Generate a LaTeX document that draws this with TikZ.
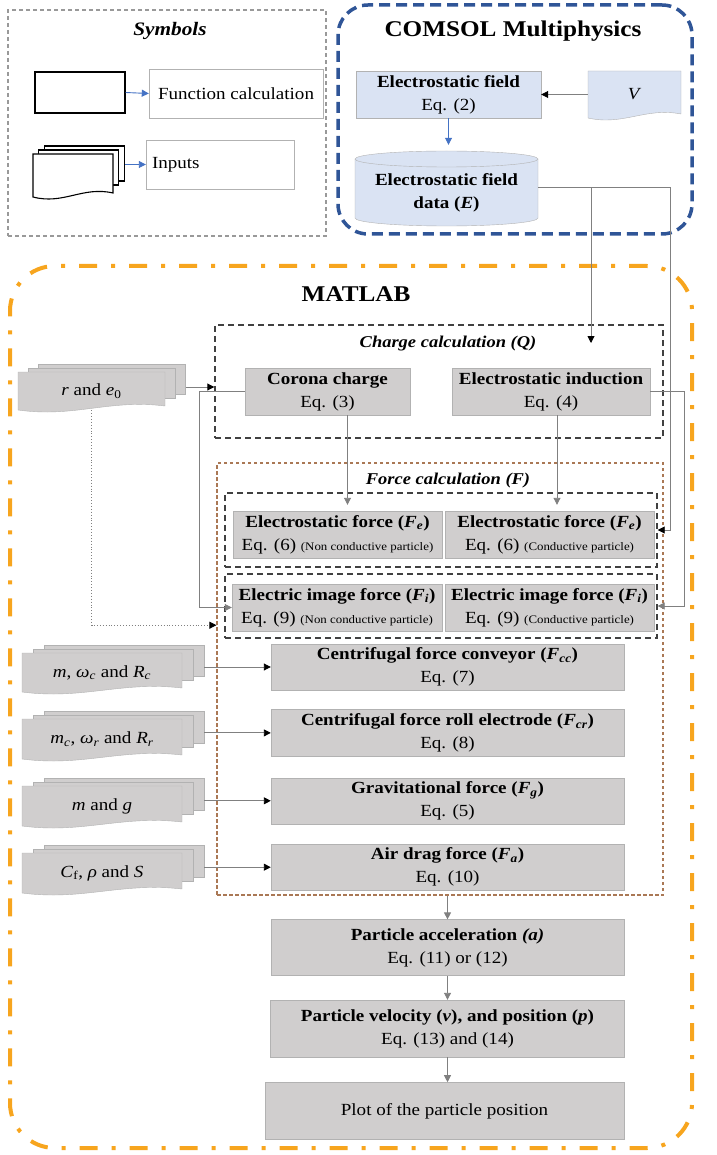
\documentclass[tikz,border=0pt]{standalone}
\usepackage{fontspec}
\setmainfont{Liberation Serif}[FakeStretch=1.12]
\usetikzlibrary{arrows.meta, positioning, calc}

\definecolor{boxgray}{RGB}{208,206,206}
\definecolor{boxline}{RGB}{178,178,178}
\definecolor{lblue}{RGB}{218,227,243}
\definecolor{comsolblue}{RGB}{47,85,151}
\definecolor{matorange}{RGB}{247,165,30}
\definecolor{brownline}{RGB}{170,120,85}
\definecolor{linegray}{RGB}{128,128,128}
\definecolor{arrowblue}{RGB}{68,114,196}

\newcommand{\boxfont}{\fontsize{17pt}{23pt}\selectfont}
\newcommand{\tinyfont}{\fontsize{11.5pt}{13pt}\selectfont}

% document sheet with a wavy lower edge
\newcommand{\docpath}[5]{%
  \draw[#1] (#2,#3) -- ({#2+#4},#3) -- ({#2+#4},{#3+#5-4})
    .. controls ({#2+0.62*#4},{#3+#5-11}) and ({#2+0.38*#4},{#3+#5+8}) .. (#2,{#3+#5}) -- cycle;}
% stack of three sheets, front one named
\newcommand{\inpstack}[7]{%
  \foreach \k in {2,1}
    \draw[#1] ({#3+0.07*#5*\k},{#4-4*\k}) rectangle ++(#5,{#6-8});
  \docpath{#1}{#3}{#4}{#5}{#6}
  \node[stacktxt, minimum width=#5pt, minimum height=#6pt] (#2) at ({#3+#5/2},{#4+#6/2}) {#7};}

\begin{document}
\begin{tikzpicture}[x=1pt, y=-1pt,
        gbox/.style={draw=boxline, fill=boxgray, align=center, inner sep=1pt, font=\boxfont},
        bbox/.style={gbox, fill=lblue},
        wbox/.style={draw=boxline, fill=white, font=\fontsize{17pt}{20pt}\selectfont},
        sheet/.style={draw=boxline, fill=boxgray},
        bsheet/.style={draw=boxline, fill=lblue},
        symsheet/.style={draw=black, fill=white, line width=1.1pt},
        stacktxt/.style={font=\fontsize{17pt}{20pt}\selectfont, inner sep=0pt},
        grp/.style={draw=black!75, dash pattern=on 6pt off 4pt, line width=1.4pt, inner sep=0pt},
        ttl/.style={font=\fontsize{16.5pt}{20pt}\selectfont\bfseries\itshape},
        conn/.style={draw=linegray, line width=0.9pt},
        tipk/.style={-{Triangle[length=7pt, width=7pt, color=black]}},
        tipg/.style={-{Triangle[length=7pt, width=7pt, color=linegray]}},
        tipb/.style={draw=arrowblue, line width=0.9pt, -{Triangle[length=7pt, width=7pt, color=arrowblue]}}
    ]
    \useasboundingbox (0,0) rectangle (716,1155);

    % frames
    \node[draw=gray!80, dash pattern=on 4pt off 3pt, line width=1.1pt, minimum width=318pt, minimum height=226pt] (symbols) at (167,123) {};
    \node[font=\fontsize{19pt}{22pt}\selectfont\bfseries\itshape] (symttl) at (170,31) {Symbols};
    \node[draw=comsolblue, line width=3.5pt, dash pattern=on 11pt off 6pt, rounded corners=30pt, minimum width=354pt, minimum height=229pt] (comsol) at (515,119.5) {};
    \node[font=\fontsize{22.5pt}{26pt}\selectfont\bfseries] (comttl) at (513,31) {COMSOL Multiphysics};
    \node[draw=matorange, line width=4pt, dash pattern=on 18pt off 14pt on 4pt off 14pt, rounded corners=45pt, minimum width=682pt, minimum height=882pt] (matlab) at (351,707) {};
    \node[font=\fontsize{22.5pt}{26pt}\selectfont\bfseries] (matttl) at (356,294) {MATLAB};

    % symbols
    \node[symsheet, minimum width=90pt, minimum height=41pt] (symfun) at (80,92.5) {};
    \node[wbox, minimum width=174pt, minimum height=49pt] (symfunc) at (236,93.5) {Function calculation};
    \inpstack{symsheet}{syminp}{33}{154}{80}{43}{}
    \node[wbox, minimum width=148pt, minimum height=49pt, text width=136pt, align=left] (syminput) at (220,164.5) {Inputs};
    \draw[tipb] (symfun.east) -- (symfunc.west);
    \draw[tipb] ($(syminput.west -| syminp.east)+(12,0)$) -- (syminput.west);

    % COMSOL
    \node[bbox, minimum width=185pt, minimum height=47pt] (field) at (448.5,94.5) {\textbf{Electrostatic field}\\Eq. (2)};
    \docpath{bsheet}{588}{71}{93}{47}
    \node[stacktxt, minimum width=93pt, minimum height=47pt] (volt) at (634.5,94.5) {\textit{V}};
    \draw[draw=boxline, fill=lblue] (355,159) -- (355,218) arc[start angle=180, end angle=0, x radius=91.5, y radius=8]
        -- (538,159) arc[start angle=0, end angle=-180, x radius=91.5, y radius=8] -- cycle;
    \draw[draw=boxline] (355,159) arc[start angle=180, end angle=0, x radius=91.5, y radius=8];
    \node[font=\boxfont, align=center, minimum width=183pt, minimum height=84pt, inner sep=0pt] (data) at (446.5,193) {\textbf{Electrostatic field}\\\textbf{data (\textit{E})}};
    \draw[conn, tipk] (volt.west) -- (field.east);
    \draw[tipb, shorten >=6pt] (field.south) -- (field.south |- data.north);

    % charge calculation
    \node[grp, minimum width=448pt, minimum height=113pt] (qbox) at (439,381.5) {};
    \node[ttl] (qttl) at (448,344) {Charge calculation (Q)};
    \coordinate (qin) at (591,343);
    \node[gbox, minimum width=165pt, minimum height=47pt] (corona) at (327.5,391.5) {\textbf{Corona charge}\\Eq. (3)};
    \node[gbox, minimum width=198pt, minimum height=47pt] (induct) at (551,391.5) {\textbf{Electrostatic induction}\\Eq. (4)};

    % force calculation
    \node[draw=brownline, dash pattern=on 3.5pt off 2.5pt, line width=1.2pt, minimum width=446pt, minimum height=432pt] (fbox) at (440,679) {};
    \node[ttl] (fttl) at (448,481) {Force calculation (F)};
    \node[grp, minimum width=432pt, minimum height=74pt] (egrp) at (441,530) {};
    \node[gbox, minimum width=209pt, minimum height=47pt] (elecN) at (337.5,534.5) {\textbf{Electrostatic force (\textit{F}\textsubscript{\textit{e}})}\\Eq. (6) {\tinyfont(Non conductive particle)}};
    \node[gbox, minimum width=209pt, minimum height=47pt] (elecC) at (549.5,534.5) {\textbf{Electrostatic force (\textit{F}\textsubscript{\textit{e}})}\\Eq. (6) {\tinyfont(Conductive particle)}};
    \node[grp, minimum width=432pt, minimum height=64pt] (igrp) at (441,606) {};
    \node[gbox, minimum width=210pt, minimum height=47pt] (imgN) at (337,607.5) {\textbf{Electric image force (\textit{F}\textsubscript{\textit{i}})}\\Eq. (9) {\tinyfont(Non conductive particle)}};
    \node[gbox, minimum width=209pt, minimum height=47pt] (imgC) at (549.5,607.5) {\textbf{Electric image force (\textit{F}\textsubscript{\textit{i}})}\\Eq. (9) {\tinyfont(Conductive particle)}};

    \node[gbox, minimum width=353pt, minimum height=46pt] (conv) at (447.5,667) {\textbf{Centrifugal force conveyor (\textit{F}\textsubscript{\textit{cc}})}\\Eq. (7)};
    \node[gbox, minimum width=353pt, minimum height=47pt, below=19pt of conv] (roll) {\textbf{Centrifugal force roll electrode (\textit{F}\textsubscript{\textit{cr}})}\\Eq. (8)};
    \node[gbox, minimum width=353pt, minimum height=46pt, below=21pt of roll] (grav) {\textbf{Gravitational force (\textit{F}\textsubscript{\textit{g}})}\\Eq. (5)};
    \node[gbox, minimum width=353pt, minimum height=46pt, below=20pt of grav] (drag) {\textbf{Air drag force (\textit{F}\textsubscript{\textit{a}})}\\Eq. (10)};
    \node[gbox, minimum width=353pt, minimum height=56pt, below=29pt of drag] (acc) {\textbf{Particle acceleration \textit{(a)}}\\Eq. (11) or (12)};
    \node[gbox, minimum width=354pt, minimum height=57pt, below=24pt of acc] (vel) {\textbf{Particle velocity (\textit{v}), and position (\textit{p})}\\Eq. (13) and (14)};
    \node[gbox, minimum width=359pt, minimum height=57pt, below=25pt of vel, xshift=-3pt] (plot) {Plot of the particle position};

    % inputs
    \inpstack{sheet}{r0}{18}{372}{147}{38}{\textit{r} and \textit{e}\textsubscript{0}}
    \inpstack{sheet}{mwc}{22}{653}{160}{39}{\textit{m}, \textit{ω}\textsubscript{\textit{c}} and \textit{R}\textsubscript{\textit{c}}}
    \inpstack{sheet}{mcr}{22}{719}{160}{40}{\textit{m}\textsubscript{\textit{c}}, \textit{ω}\textsubscript{\textit{r}} and \textit{R}\textsubscript{\textit{r}}}
    \inpstack{sheet}{mg}{22}{786}{160}{40}{\textit{m} and \textit{g}}
    \inpstack{sheet}{cf}{22}{853}{160}{40}{\textit{C}\textsubscript{f}, \textit{ρ} and \textit{S}}

    % connectors
    \draw[conn, tipk] ([yshift=6pt]data.east) -| (qin);
    \draw[conn, tipk] ([yshift=6pt]data.east) -| ($(egrp.east)+(13,0)$) -- (egrp.east);
    \draw[conn, tipk] ($(r0.east)+(21,-4)$) -- ($(qbox.west |- r0.east)+(0,-4)$);
    \draw[conn, dotted, tipk] (r0.south) |- ($(fbox.west |- imgN.south)+(0,-6)$);
    \draw[conn, tipg, shorten >=6pt] ($(corona.south)+(20,0)$) -- ($(corona.south |- elecN.north)+(20,0)$);
    \draw[conn, tipg, shorten >=6pt] ($(induct.south)+(6,0)$) -- ($(induct.south |- elecC.north)+(6,0)$);
    \draw[conn, tipg] (corona.west) -| ($(imgN.west)+(-32,0)$) -- (imgN.west);
    \draw[conn, tipg] (induct.east) -| ($(igrp.east)+(27,0)$) -- (igrp.east);
    \draw[conn, tipk] ($(conv.west -| mwc.east)+(22,0)$) -- (conv.west);
    \draw[conn, tipk] ($(roll.west -| mcr.east)+(22,0)$) -- (roll.west);
    \draw[conn, tipk] ($(grav.west -| mg.east)+(22,0)$) -- (grav.west);
    \draw[conn, tipk] ($(drag.west -| cf.east)+(22,0)$) -- (drag.west);
    \draw[conn, tipg] (acc.north |- fbox.south) -- (acc.north);
    \draw[conn, tipg] (acc.south) -- (vel.north);
    \draw[conn, tipg] (vel.south) -- (vel.south |- plot.north);
\end{tikzpicture}
\end{document}
